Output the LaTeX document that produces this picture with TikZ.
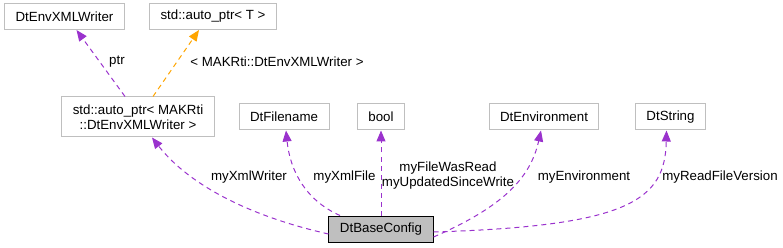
\documentclass[tikz,border=0pt]{standalone}
\usepackage{fontspec}
\setmainfont{Liberation Sans}
\usepackage{xcolor}
\usepackage{tikz}
\usetikzlibrary{arrows.meta}

\definecolor{memberpurple}{HTML}{9A32CD}
\definecolor{tmplorange}{HTML}{FFA500}
\definecolor{boxgray}{HTML}{BFBFBF}

\tikzset{
  cls/.style={draw=boxgray, line width=1pt, fill=white, inner xsep=11pt, inner ysep=0pt,
    minimum height=26pt, align=center, font=\fontsize{13.3}{15}\selectfont},
  mainclass/.style={cls, draw=black, fill=boxgray},
  member/.style={draw=memberpurple, line width=1pt, dash pattern=on 5pt off 4pt,
    -{Triangle[length=11pt,width=9pt,fill=memberpurple]}},
  tmplarg/.style={member, draw=tmplorange, -{Triangle[length=11pt,width=9pt,fill=tmplorange]}},
  lbl/.style={inner sep=0pt, align=center, font=\fontsize{13.3}{15}\selectfont}
}

\begin{document}
\begin{tikzpicture}[x=1pt, y=-1pt]
\useasboundingbox (0,0) rectangle (783,248);

% classes
\node[cls] (envwriter) at (64.5,16.5) {DtEnvXMLWriter};
\node[cls] (autoptrT) at (213,16.5) {std::auto\_ptr< T >};
\node[cls, minimum height=40pt] (autoptr) at (138,117) {std::auto\_ptr< MAKRti\\::DtEnvXMLWriter >};
\node[cls] (filename) at (284,117) {DtFilename};
\node[cls] (boolcls) at (381,117) {bool};
\node[cls] (environment) at (544,117) {DtEnvironment};
\node[cls] (dtstring) at (670.5,117) {DtString};
\node[mainclass] (baseconfig) at (381,229) {DtBaseConfig};

% template instance
\draw[member] ([xshift=-13pt]autoptr.north) -- ([xshift=12pt]envwriter.south);
\draw[tmplarg] ([xshift=15pt]autoptr.north) -- ([xshift=-14pt]autoptrT.south);
\node[lbl] (lptr) at (117,62) {ptr};
\node[lbl] (ltmpl) at (277,62) {< MAKRti::DtEnvXMLWriter >};

% members of DtBaseConfig
\draw[member] ([yshift=-5pt]baseconfig.west) .. controls (240,214) and (185,180) .. ([xshift=14pt]autoptr.south);
\draw[member] ([xshift=-41pt]baseconfig.north) .. controls (305,200) and (290,170) .. ([xshift=2pt]filename.south);
\draw[member] (baseconfig.north) -- (boolcls.south);
\draw[member] ([yshift=-8pt]baseconfig.east) .. controls (500,208) and (530,180) .. ([xshift=-3pt]environment.south);
\draw[member] ([yshift=-3pt]baseconfig.east) .. controls (630,226) and (665,200) .. ([xshift=-4pt]dtstring.south);

\node[lbl] (lwriter) at (249,177) {myXmlWriter};
\node[lbl] (lfile) at (344.5,177) {myXmlFile};
\node[lbl] (lflags) at (448,175.5) {myFileWasRead\\myUpdatedSinceWrite};
\node[lbl] (lenv) at (584,177) {myEnvironment};
\node[lbl] (lversion) at (720,177) {myReadFileVersion};
\end{tikzpicture}
\end{document}
